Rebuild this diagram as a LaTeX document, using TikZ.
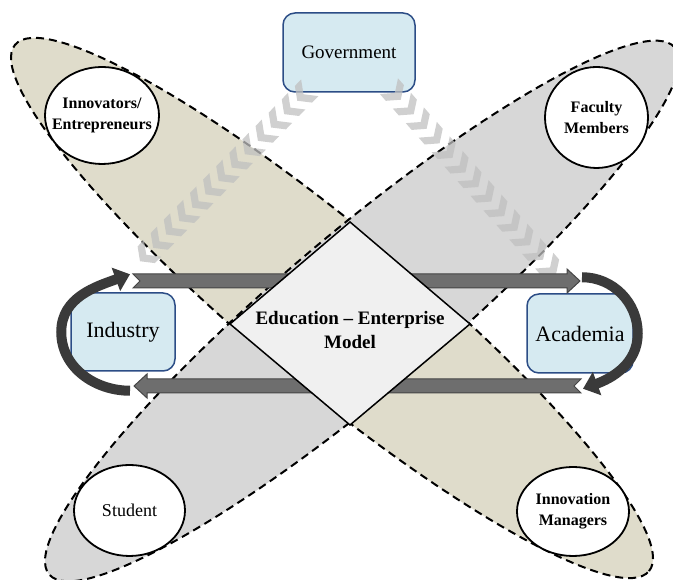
\documentclass[tikz,border=0pt]{standalone}
\usepackage{fontspec}
\setmainfont{Liberation Serif}
\usetikzlibrary{shapes.geometric,arrows.meta,calc}

\definecolor{beige}{RGB}{223,220,203}
\definecolor{bandgrey}{RGB}{215,215,215}
\definecolor{boxblue}{RGB}{214,234,241}
\definecolor{boxline}{RGB}{44,77,134}
\definecolor{modelfill}{RGB}{240,240,240}
\definecolor{flowfill}{RGB}{110,110,110}
\definecolor{flowline}{RGB}{70,70,70}
\definecolor{loopdark}{RGB}{58,58,58}
\definecolor{chevgrey}{RGB}{192,192,192}

\begin{document}
\begin{tikzpicture}[x=1pt, y=1pt,
  actor/.style={draw=boxline, rounded corners=12pt, fill=boxblue, line width=1.5pt, inner sep=0pt},
  person/.style={draw, ellipse, fill=white, line width=1.8pt, inner sep=0pt},
  persontext/.style={font=\fontsize{16}{21}\selectfont\bfseries, align=center},
  band/.style={dash pattern=on 8pt off 5pt, line width=2pt},
  chev/.style={fill=chevgrey, opacity=0.75},
  flow/.style={fill=flowfill, draw=flowline, line width=1pt},
  turn/.style={draw=loopdark, line width=10pt, -{Triangle[length=15pt,width=24pt]}}
]
\useasboundingbox (0,0) rectangle (673,580);

% Bands
\filldraw[band, fill=beige, rotate around={-39.7:(332,272)}] (332,272) ellipse [x radius=412, y radius=79];
\filldraw[band, fill=bandgrey, rotate around={40.1:(362,269)}] (362,269) ellipse [x radius=409, y radius=79];

% Stakeholders
\node[actor, minimum width=132pt, minimum height=79pt, font=\fontsize{19}{22}\selectfont] (gov) at (349,527.5) {Government};
\node[actor, minimum width=104pt, minimum height=78pt, font=\fontsize{22}{26}\selectfont] (industry) at (123,248) {Industry};
\node[actor, minimum width=106pt, minimum height=79pt, font=\fontsize{22}{26}\selectfont] (academia) at (580,246.5) {Academia};

% Chevron chains from government
\coordinate (gov-l) at ($(gov.south west)+(15,-8)$);
\coordinate (ind-l) at ($(industry.north)+(17,31)$);
\coordinate (gov-r) at ($(gov.south east)+(-15,-7)$);
\coordinate (aca-r) at ($(academia.north)+(-24,19)$);
\foreach \i in {0,...,12}
  \fill[chev, shift={($(gov-l)!\i/12!(ind-l)$)}, rotate=226] (-9,12) -- (0,0) -- (-9,-12) -- (-18,-12) -- (-9,0) -- (-18,12) -- cycle;
\foreach \i in {0,...,12}
  \fill[chev, shift={($(gov-r)!\i/12!(aca-r)$)}, rotate=-49] (-9,12) -- (0,0) -- (-9,-12) -- (-18,-12) -- (-9,0) -- (-18,12) -- cycle;

% People
\node[person, minimum width=114pt, minimum height=97pt, label={[persontext]center:Innovators/\\Entrepreneurs}] (innov) at (102,464.5) {};
\node[person, minimum width=103pt, minimum height=101pt, label={[persontext]center:Faculty\\Members}] (faculty) at (596.5,462.5) {};
\node[person, minimum width=111pt, minimum height=91pt, label={[font=\fontsize{18}{21}\selectfont]center:Student}] (student) at (129.5,69.5) {};
\node[person, minimum width=112pt, minimum height=89pt, label={[persontext]center:Innovation\\Managers}] (managers) at (573,68.5) {};

% Flows between industry and academia
\filldraw[flow] (133,306) -- (567,306) -- (567,311) -- (580,299) -- (567,287) -- (567,292) -- (133,292) -- (140,299) -- cycle;
\filldraw[flow] (581,201) -- (147,201) -- (147,206) -- (134,194) -- (147,182) -- (147,187) -- (581,187) -- (574,194) -- cycle;

% Model
\filldraw[fill=modelfill, line width=1.5pt] (350,358) -- (470,256) -- (350,155) -- (230,256) -- cycle;
\node[font=\fontsize{19}{24}\selectfont\bfseries, align=center] (model) at (350,250) {Education -- Enterprise\\Model};

% Turning arrows
\draw[turn] ($(industry.south)+(7,-19)$) to[out=180, in=270] ($(industry.west)+(-9,0)$) to[out=90, in=200] ($(industry.north)+(7,18)$);
\draw[turn] ($(academia.north)+(2,16)$) to[out=0, in=90] ($(academia.east)+(4,0)$) to[out=270, in=20] ($(academia.south)+(3,-15)$);
\end{tikzpicture}
\end{document}
